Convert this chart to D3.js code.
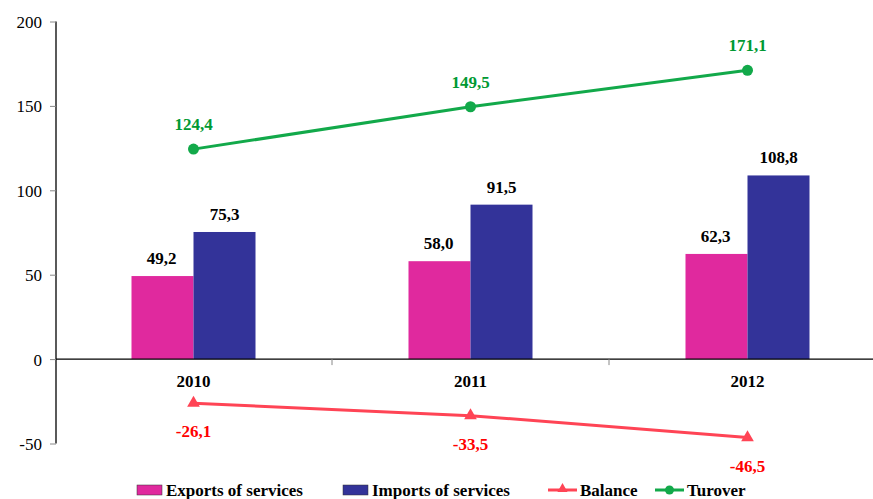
<!DOCTYPE html>
<html><head><meta charset="utf-8">
<script src="https://cdn.jsdelivr.net/npm/d3@7"></script>
<style>
body{margin:0;background:#fff}
#wrap{position:relative;width:873px;height:499px;overflow:hidden}
svg{display:block;position:absolute;left:0;top:0}
svg text{font-family:"Liberation Serif","Times New Roman",serif !important}
</style>
</head><body>
<div id="wrap"><svg id="c" width="873" height="499"></svg></div>
<script>
const categories = ["2010", "2011", "2012"];
const exportsVals = [49.2, 58.0, 62.3];
const importsVals = [75.3, 91.5, 108.8];
const balanceVals = [-26.1, -33.5, -46.5];
const turnoverVals = [124.4, 149.5, 171.1];
const yTicks = [-50, 0, 50, 100, 150, 200];
const legendLabels = ["Exports of services", "Imports of services", "Balance", "Turover"];

const fmt = v => v.toFixed(1).replace(".", ",");
const svg = d3.select("#c");
const cExp = "#E0299E", cImp = "#333399", cBal = "#FF4455", cBalTxt = "#FF0000", cTur = "#12A94A", cTurTxt = "#009933";
const FS = 17;
const FF = '"Liberation Serif", "Times New Roman", serif';

function label(g, x, baseline, text, opt = {}) {
  return g.append("text").attr("x", x).attr("y", baseline)
    .attr("text-anchor", opt.anchor || "middle")
    .attr("font-family", FF)
    .style("font-family", FF, "important")
    .style("font-size", FS + "px")
    .style("font-weight", opt.bold === false ? "normal" : "bold")
    .attr("fill", opt.color || "#000")
    .text(text);
}

const x = d3.scaleBand().domain(categories).range([55, 886]).paddingInner(0).paddingOuter(0);
const y = d3.scaleLinear().domain([-50, 200]).range([443.5, 21.5]);
const sub = d3.scaleBand().domain(["e", "i"]).range([0, 124]);
const groupOff = (x.bandwidth() - 124) / 2;
const cx = d => x(d) + x.bandwidth() / 2;

// y axis
const yAxis = d3.axisLeft(y).tickValues(yTicks).tickSize(6).tickPadding(8).tickFormat(d => d);
const gy = svg.append("g").attr("transform", "translate(56,0)").call(yAxis);
gy.attr("font-family", FF);
gy.select(".domain").attr("stroke", "#000").attr("stroke-width", 1.3).attr("d", `M0,${y(200)}V${y(-50)}`);
gy.selectAll(".tick line").attr("stroke", "#888");
gy.selectAll(".tick text").attr("fill", "#000").attr("dy", null).attr("y", 6)
  .style("font-family", FF, "important").style("font-size", FS + "px");

// bars
const bars = svg.append("g");
categories.forEach((c, i) => {
  bars.append("rect").attr("x", x(c) + groupOff + sub("e")).attr("width", sub.bandwidth())
    .attr("y", y(exportsVals[i])).attr("height", y(0) - y(exportsVals[i])).attr("fill", cExp);
  bars.append("rect").attr("x", x(c) + groupOff + sub("i")).attr("width", sub.bandwidth())
    .attr("y", y(importsVals[i])).attr("height", y(0) - y(importsVals[i])).attr("fill", cImp);
  label(bars, x(c) + groupOff + sub("e") + sub.bandwidth() / 2 - 1, y(exportsVals[i]) - 12, fmt(exportsVals[i]));
  label(bars, x(c) + groupOff + sub("i") + sub.bandwidth() / 2, y(importsVals[i]) - 12, fmt(importsVals[i]));
});

// x axis
svg.append("line").attr("x1", 56).attr("x2", 873).attr("y1", y(0)).attr("y2", y(0)).attr("stroke", "#000").attr("stroke-width", 1.3);
categories.slice(1).forEach(c => {
  svg.append("line").attr("x1", x(c)).attr("x2", x(c)).attr("y1", y(0)).attr("y2", y(0) + 6).attr("stroke", "#888");
});
categories.forEach(c => label(svg, cx(c), 387, c));

// turnover line
const line = d3.line().x((d, i) => cx(categories[i])).y(d => y(d));
svg.append("path").datum(turnoverVals).attr("d", line).attr("fill", "none").attr("stroke", cTur).attr("stroke-width", 3);
turnoverVals.forEach((v, i) => {
  svg.append("circle").attr("cx", cx(categories[i])).attr("cy", y(v)).attr("r", 5.5).attr("fill", cTur);
  label(svg, cx(categories[i]), y(v) - 19, fmt(v), {color: cTurTxt});
});

// balance line
svg.append("path").datum(balanceVals).attr("d", line).attr("fill", "none").attr("stroke", cBal).attr("stroke-width", 3);
const tri = d3.symbol().type(d3.symbolTriangle).size(70);
balanceVals.forEach((v, i) => {
  svg.append("path").attr("d", tri()).attr("transform", `translate(${cx(categories[i])},${y(v)})`).attr("fill", cBal);
  label(svg, cx(categories[i]), y(v) + 34, fmt(v), {color: cBalTxt});
});

// legend
const lg = svg.append("g");
const ly = 490;
const items = [
  {x: 137, type: "rect", color: cExp},
  {x: 343, type: "rect", color: cImp},
  {x: 548, type: "line", color: cBal, marker: "tri"},
  {x: 655, type: "line", color: cTur, marker: "circle"}
];
items.forEach((it, i) => {
  if (it.type === "rect") {
    lg.append("rect").attr("x", it.x).attr("y", ly - 5).attr("width", 25).attr("height", 10).attr("fill", it.color).attr("stroke", "#333").attr("stroke-width", 0.5);
  } else {
    lg.append("line").attr("x1", it.x).attr("x2", it.x + 29).attr("y1", ly).attr("y2", ly).attr("stroke", it.color).attr("stroke-width", 3);
    if (it.marker === "tri") lg.append("path").attr("d", d3.symbol().type(d3.symbolTriangle).size(45)()).attr("transform", `translate(${it.x + 14.5},${ly - 1})`).attr("fill", it.color);
    else lg.append("circle").attr("cx", it.x + 14.5).attr("cy", ly).attr("r", 4.5).attr("fill", it.color);
  }
  label(lg, it.x + (it.type === "rect" ? 29 : 32), ly + 6, legendLabels[i], {anchor: "start"});
});
</script>
</body></html>
